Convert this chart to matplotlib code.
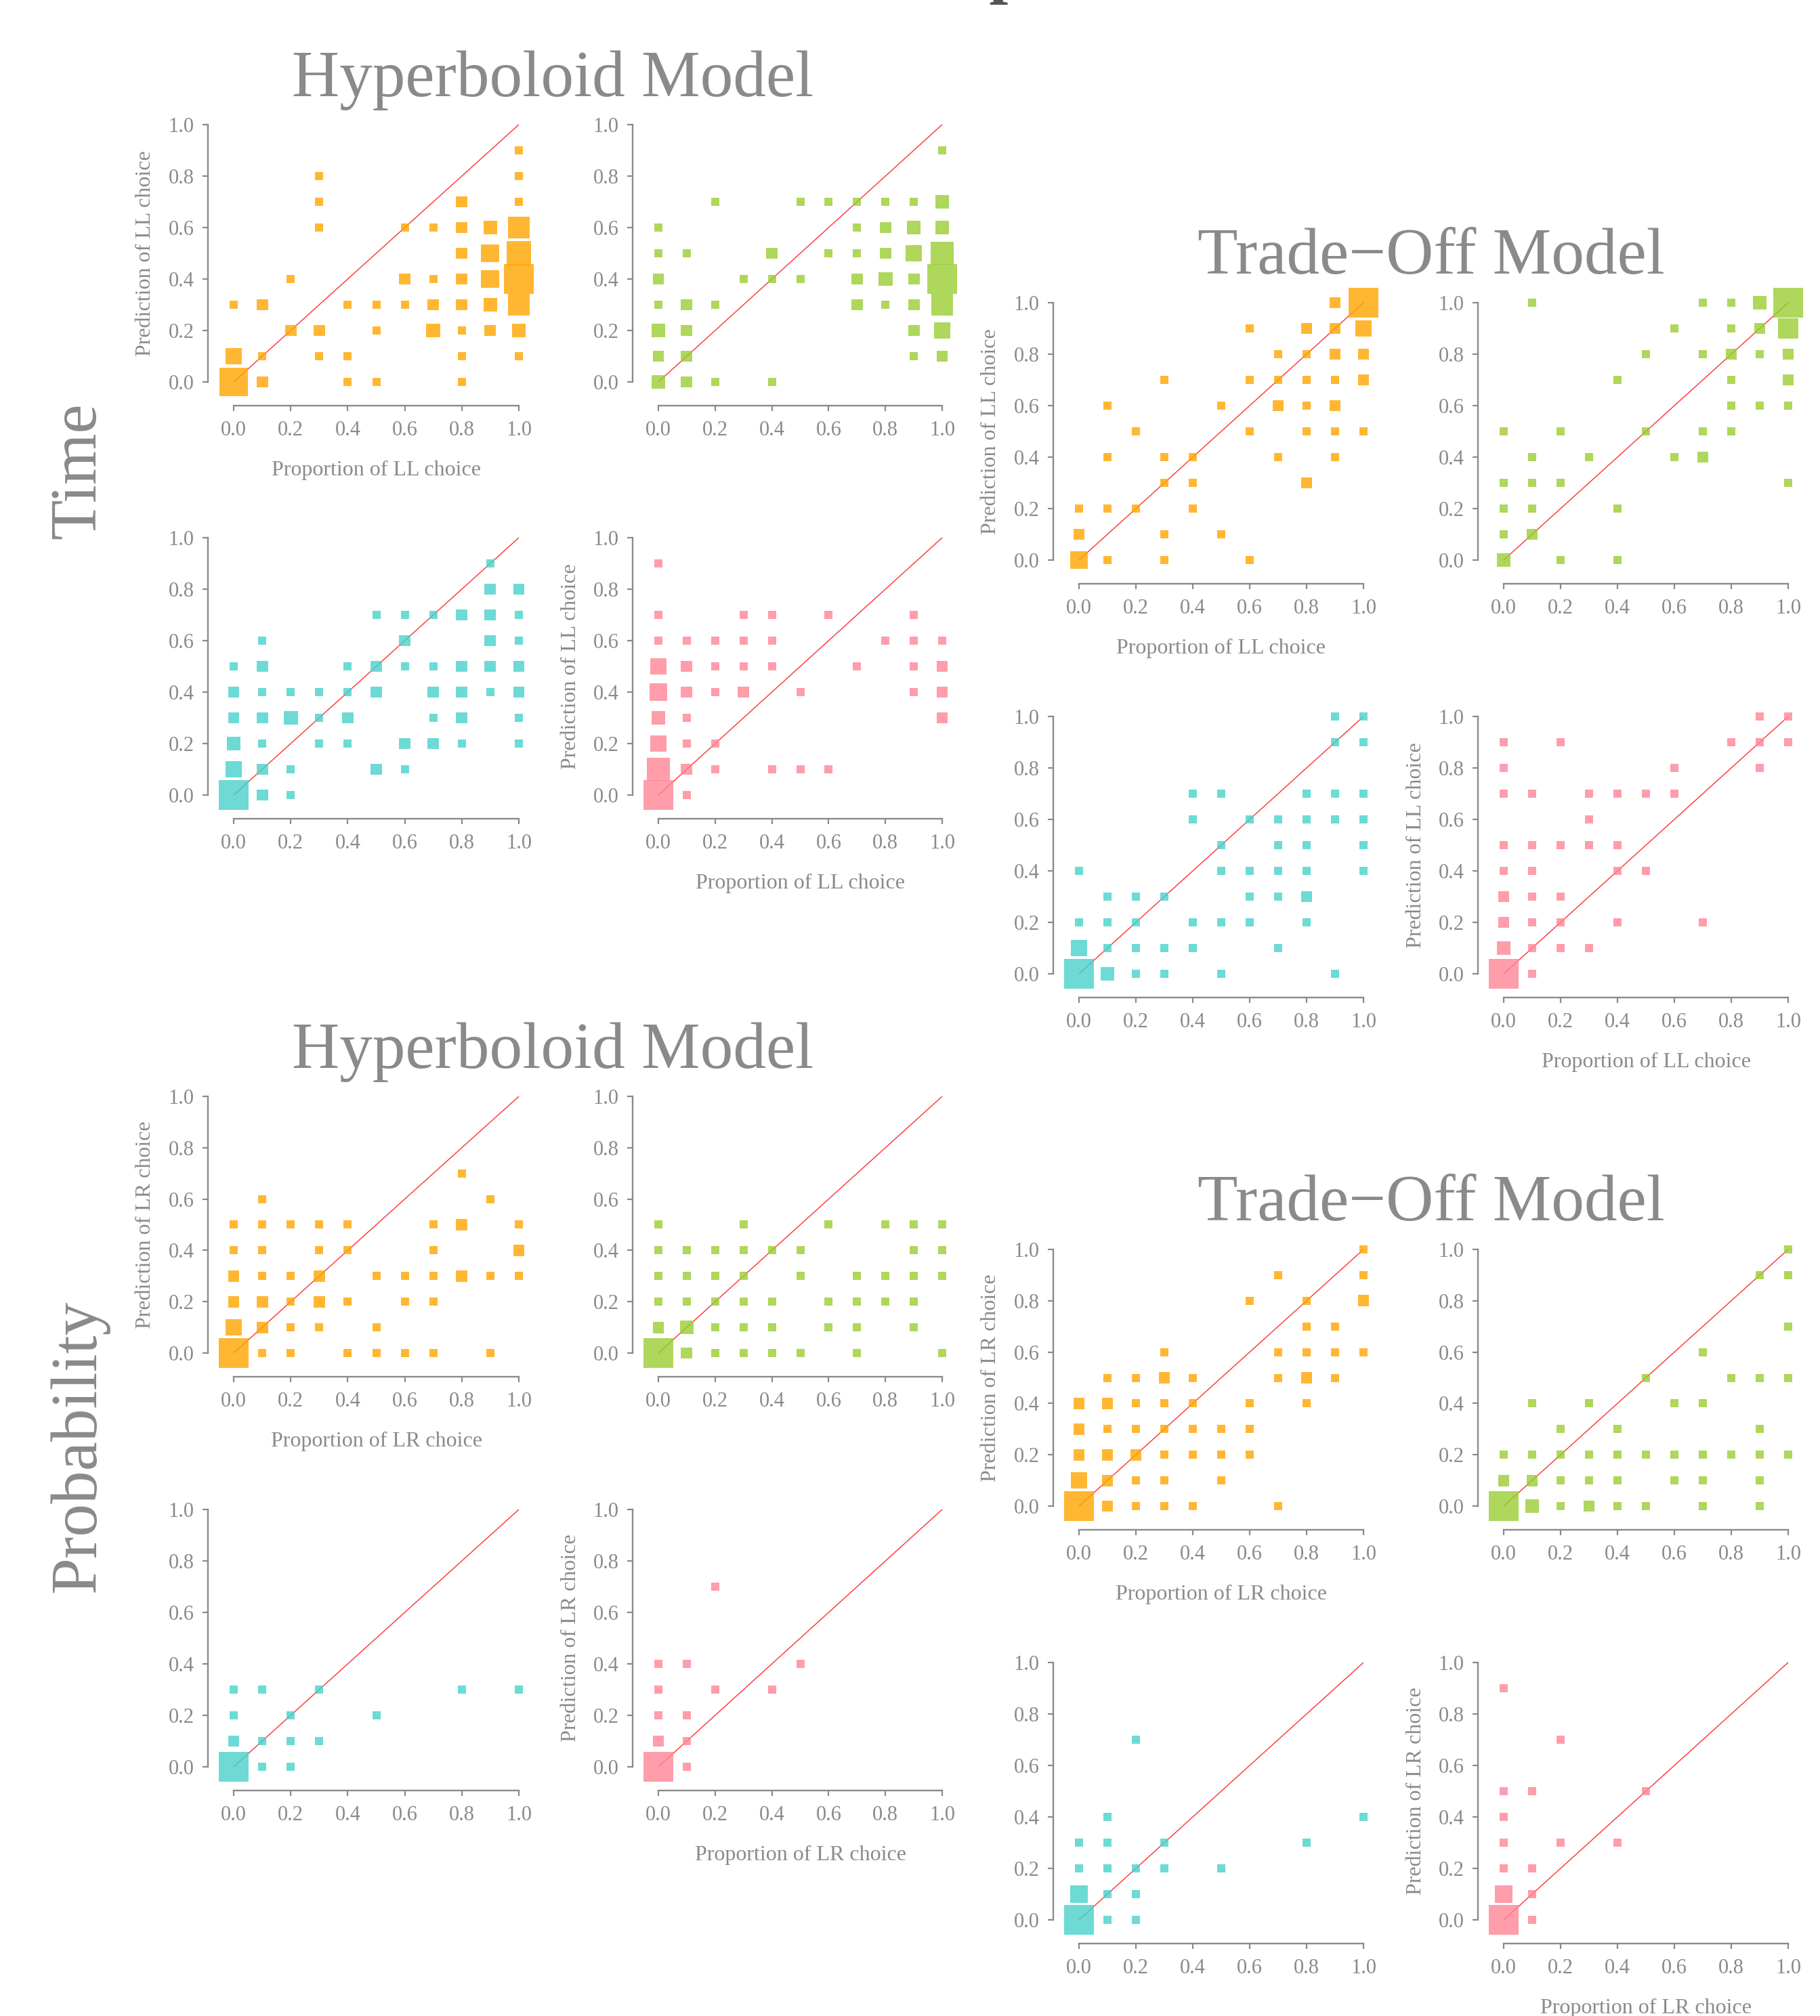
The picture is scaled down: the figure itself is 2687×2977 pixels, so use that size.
import matplotlib
matplotlib.use("Agg")
import matplotlib.pyplot as plt
import numpy as np

# ---------------- data: (observed proportion, model prediction, count) ----------------
th_orange = [(0.0,0.0,12),(0.0,0.1,4),(0.0,0.3,1),(0.1,0.0,2),(0.1,0.1,1),(0.1,0.3,2),(0.2,0.2,2),(0.2,0.4,1),
             (0.3,0.1,1),(0.3,0.2,2),(0.3,0.6,1),(0.3,0.7,1),(0.3,0.8,1),(0.4,0.0,1),(0.4,0.1,1),(0.4,0.3,1),
             (0.5,0.0,1),(0.5,0.2,1),(0.5,0.3,1),(0.6,0.3,1),(0.6,0.4,2),(0.6,0.6,1),(0.7,0.2,3),(0.7,0.3,2),
             (0.7,0.4,1),(0.7,0.6,1),(0.8,0.0,1),(0.8,0.1,1),(0.8,0.2,1),(0.8,0.3,2),(0.8,0.4,2),(0.8,0.5,2),
             (0.8,0.6,2),(0.8,0.7,2),(0.9,0.2,2),(0.9,0.3,3),(0.9,0.4,5),(0.9,0.5,5),(0.9,0.6,3),(1.0,0.1,1),
             (1.0,0.2,3),(1.0,0.3,7),(1.0,0.4,14),(1.0,0.5,9),(1.0,0.6,7),(1.0,0.7,1),(1.0,0.8,1),(1.0,0.9,1)]
th_green = [(0.0,0.0,3),(0.0,0.1,2),(0.0,0.2,3),(0.0,0.3,1),(0.0,0.4,2),(0.0,0.5,1),(0.0,0.6,1),(0.1,0.0,2),
            (0.1,0.1,2),(0.1,0.2,2),(0.1,0.3,2),(0.1,0.5,1),(0.2,0.0,1),(0.2,0.3,1),(0.2,0.7,1),(0.3,0.4,1),
            (0.4,0.0,1),(0.4,0.4,1),(0.4,0.5,2),(0.5,0.4,1),(0.5,0.7,1),(0.6,0.5,1),(0.6,0.7,1),(0.7,0.3,2),
            (0.7,0.4,2),(0.7,0.5,1),(0.7,0.6,1),(0.7,0.7,1),(0.8,0.3,1),(0.8,0.4,3),(0.8,0.5,2),(0.8,0.6,2),
            (0.8,0.7,1),(0.9,0.1,1),(0.9,0.2,2),(0.9,0.3,2),(0.9,0.4,2),(0.9,0.5,4),(0.9,0.6,3),(0.9,0.7,1),
            (1.0,0.1,2),(1.0,0.2,4),(1.0,0.3,7),(1.0,0.4,14),(1.0,0.5,8),(1.0,0.6,3),(1.0,0.7,3),(1.0,0.9,1)]
th_cyan = [(0.0,0.0,14),(0.0,0.1,4),(0.0,0.2,3),(0.0,0.3,2),(0.0,0.4,2),(0.0,0.5,1),(0.1,0.0,2),(0.1,0.1,2),
           (0.1,0.2,1),(0.1,0.3,2),(0.1,0.4,1),(0.1,0.5,2),(0.1,0.6,1),(0.2,0.0,1),(0.2,0.1,1),(0.2,0.3,3),
           (0.2,0.4,1),(0.3,0.2,1),(0.3,0.3,1),(0.3,0.4,1),(0.4,0.2,1),(0.4,0.3,2),(0.4,0.4,1),(0.4,0.5,1),
           (0.5,0.1,2),(0.5,0.4,2),(0.5,0.5,2),(0.5,0.7,1),(0.6,0.1,1),(0.6,0.2,2),(0.6,0.5,1),(0.6,0.6,2),
           (0.6,0.7,1),(0.7,0.2,2),(0.7,0.3,1),(0.7,0.4,2),(0.7,0.5,1),(0.7,0.7,1),(0.8,0.2,1),(0.8,0.3,2),
           (0.8,0.4,2),(0.8,0.5,2),(0.8,0.7,2),(0.9,0.4,1),(0.9,0.5,2),(0.9,0.6,2),(0.9,0.7,2),(0.9,0.8,2),
           (0.9,0.9,1),(1.0,0.2,1),(1.0,0.3,1),(1.0,0.4,2),(1.0,0.5,2),(1.0,0.6,1),(1.0,0.7,1),(1.0,0.8,2)]
th_pink = [(0.0,0.0,14),(0.0,0.1,8),(0.0,0.2,4),(0.0,0.3,3),(0.0,0.4,5),(0.0,0.5,4),(0.0,0.6,1),(0.0,0.7,1),
           (0.0,0.9,1),(0.1,0.0,1),(0.1,0.1,2),(0.1,0.2,1),(0.1,0.3,1),(0.1,0.4,2),(0.1,0.5,2),(0.1,0.6,1),
           (0.2,0.1,1),(0.2,0.2,1),(0.2,0.4,1),(0.2,0.5,1),(0.2,0.6,1),(0.3,0.4,2),(0.3,0.5,1),(0.3,0.6,1),
           (0.3,0.7,1),(0.4,0.1,1),(0.4,0.5,1),(0.4,0.6,1),(0.4,0.7,1),(0.5,0.1,1),(0.5,0.4,1),(0.6,0.1,1),
           (0.6,0.7,1),(0.7,0.5,1),(0.8,0.6,1),(0.9,0.4,1),(0.9,0.5,1),(0.9,0.6,1),(0.9,0.7,1),(1.0,0.3,2),
           (1.0,0.4,2),(1.0,0.5,2),(1.0,0.6,1)]

tt_orange = [(0.0,0.0,5),(0.0,0.1,2),(0.0,0.2,1),(0.1,0.0,1),(0.1,0.2,1),(0.1,0.4,1),(0.1,0.6,1),(0.2,0.2,1),
             (0.2,0.5,1),(0.3,0.0,1),(0.3,0.1,1),(0.3,0.3,1),(0.3,0.4,1),(0.3,0.7,1),(0.4,0.2,1),(0.4,0.3,1),
             (0.4,0.4,1),(0.5,0.1,1),(0.5,0.6,1),(0.6,0.0,1),(0.6,0.5,1),(0.6,0.7,1),(0.6,0.9,1),(0.7,0.4,1),
             (0.7,0.6,2),(0.7,0.7,1),(0.7,0.8,1),(0.8,0.3,2),(0.8,0.5,1),(0.8,0.6,1),(0.8,0.7,1),(0.8,0.8,1),
             (0.8,0.9,2),(0.9,0.4,1),(0.9,0.5,1),(0.9,0.6,2),(0.9,0.7,1),(0.9,0.8,2),(0.9,0.9,2),(0.9,1.0,2),
             (1.0,0.5,1),(1.0,0.7,2),(1.0,0.8,2),(1.0,0.9,4),(1.0,1.0,14)]
tt_green = [(0.0,0.0,3),(0.0,0.1,1),(0.0,0.2,1),(0.0,0.3,1),(0.0,0.5,1),(0.1,0.1,2),(0.1,0.2,1),(0.1,0.3,1),
            (0.1,0.4,1),(0.1,1.0,1),(0.2,0.0,1),(0.2,0.3,1),(0.2,0.5,1),(0.3,0.4,1),(0.4,0.0,1),(0.4,0.2,1),
            (0.4,0.7,1),(0.5,0.5,1),(0.5,0.8,1),(0.6,0.4,1),(0.6,0.9,1),(0.7,0.4,2),(0.7,0.5,1),(0.7,0.8,1),
            (0.7,1.0,1),(0.8,0.5,1),(0.8,0.6,1),(0.8,0.7,1),(0.8,0.8,2),(0.8,0.9,1),(0.8,1.0,1),(0.9,0.6,1),
            (0.9,0.8,1),(0.9,0.9,2),(0.9,1.0,3),(1.0,0.3,1),(1.0,0.6,1),(1.0,0.7,2),(1.0,0.8,2),(1.0,0.9,6),
            (1.0,1.0,14)]
tt_cyan = [(0.0,0.0,14),(0.0,0.1,4),(0.0,0.2,1),(0.0,0.4,1),(0.1,0.0,3),(0.1,0.1,1),(0.1,0.2,1),(0.1,0.3,1),
           (0.2,0.0,1),(0.2,0.1,1),(0.2,0.2,1),(0.2,0.3,1),(0.3,0.0,1),(0.3,0.1,1),(0.3,0.3,1),(0.4,0.1,1),
           (0.4,0.2,1),(0.4,0.6,1),(0.4,0.7,1),(0.5,0.0,1),(0.5,0.2,1),(0.5,0.4,1),(0.5,0.5,1),(0.5,0.7,1),
           (0.6,0.2,1),(0.6,0.3,1),(0.6,0.4,1),(0.6,0.6,1),(0.7,0.1,1),(0.7,0.3,1),(0.7,0.4,1),(0.7,0.5,1),
           (0.7,0.6,1),(0.8,0.2,1),(0.8,0.3,2),(0.8,0.4,1),(0.8,0.5,1),(0.8,0.6,1),(0.8,0.7,1),(0.9,0.0,1),
           (0.9,0.6,1),(0.9,0.7,1),(0.9,0.9,1),(0.9,1.0,1),(1.0,0.4,1),(1.0,0.5,1),(1.0,0.6,1),(1.0,0.7,1),
           (1.0,0.9,1),(1.0,1.0,1)]
tt_pink = [(0.0,0.0,14),(0.0,0.1,3),(0.0,0.2,2),(0.0,0.3,2),(0.0,0.4,1),(0.0,0.5,1),(0.0,0.7,1),(0.0,0.8,1),
           (0.0,0.9,1),(0.1,0.0,1),(0.1,0.1,1),(0.1,0.2,1),(0.1,0.3,1),(0.1,0.4,1),(0.1,0.5,1),(0.1,0.7,1),
           (0.2,0.1,1),(0.2,0.2,1),(0.2,0.3,1),(0.2,0.5,1),(0.2,0.9,1),(0.3,0.1,1),(0.3,0.5,1),(0.3,0.6,1),
           (0.3,0.7,1),(0.4,0.2,1),(0.4,0.4,1),(0.4,0.5,1),(0.4,0.7,1),(0.5,0.4,1),(0.5,0.7,1),(0.6,0.7,1),
           (0.6,0.8,1),(0.7,0.2,1),(0.8,0.9,1),(0.9,0.8,1),(0.9,0.9,1),(0.9,1.0,1),(1.0,0.9,1),(1.0,1.0,1)]

ph_orange = [(0.0,0.0,14),(0.0,0.1,4),(0.0,0.2,2),(0.0,0.3,2),(0.0,0.4,1),(0.0,0.5,1),(0.1,0.0,1),(0.1,0.1,2),
             (0.1,0.2,2),(0.1,0.3,1),(0.1,0.4,1),(0.1,0.5,1),(0.1,0.6,1),(0.2,0.0,1),(0.2,0.1,1),(0.2,0.2,1),
             (0.2,0.3,1),(0.2,0.5,1),(0.3,0.1,1),(0.3,0.2,2),(0.3,0.3,2),(0.3,0.4,1),(0.3,0.5,1),(0.4,0.0,1),
             (0.4,0.2,1),(0.4,0.4,1),(0.4,0.5,1),(0.5,0.0,1),(0.5,0.1,1),(0.5,0.3,1),(0.6,0.0,1),(0.6,0.2,1),
             (0.6,0.3,1),(0.7,0.0,1),(0.7,0.2,1),(0.7,0.3,1),(0.7,0.4,1),(0.7,0.5,1),(0.8,0.3,2),(0.8,0.5,2),
             (0.8,0.7,1),(0.9,0.0,1),(0.9,0.3,1),(0.9,0.6,1),(1.0,0.3,1),(1.0,0.4,2),(1.0,0.5,1)]
ph_green = [(0.0,0.0,14),(0.0,0.1,2),(0.0,0.2,1),(0.0,0.3,1),(0.0,0.4,1),(0.0,0.5,1),(0.1,0.0,2),(0.1,0.1,3),
            (0.1,0.2,1),(0.1,0.3,1),(0.1,0.4,1),(0.2,0.0,1),(0.2,0.1,1),(0.2,0.2,1),(0.2,0.3,1),(0.2,0.4,1),
            (0.3,0.0,1),(0.3,0.1,1),(0.3,0.2,1),(0.3,0.3,1),(0.3,0.4,1),(0.3,0.5,1),(0.4,0.0,1),(0.4,0.1,1),
            (0.4,0.2,1),(0.4,0.4,1),(0.5,0.0,1),(0.5,0.3,1),(0.5,0.4,1),(0.6,0.1,1),(0.6,0.2,1),(0.6,0.5,1),
            (0.7,0.0,1),(0.7,0.1,1),(0.7,0.2,1),(0.7,0.3,1),(0.8,0.2,1),(0.8,0.3,1),(0.8,0.5,1),(0.9,0.1,1),
            (0.9,0.2,1),(0.9,0.3,1),(0.9,0.4,1),(0.9,0.5,1),(1.0,0.0,1),(1.0,0.3,1),(1.0,0.4,1),(1.0,0.5,1)]
ph_cyan = [(0.0,0.0,14),(0.0,0.1,2),(0.0,0.2,1),(0.0,0.3,1),(0.1,0.0,1),(0.1,0.1,1),(0.1,0.3,1),(0.2,0.0,1),
           (0.2,0.1,1),(0.2,0.2,1),(0.3,0.1,1),(0.3,0.3,1),(0.5,0.2,1),(0.8,0.3,1),(1.0,0.3,1)]
ph_pink = [(0.0,0.0,14),(0.0,0.1,2),(0.0,0.2,1),(0.0,0.3,1),(0.0,0.4,1),(0.1,0.0,1),(0.1,0.1,1),(0.1,0.2,1),
           (0.1,0.4,1),(0.2,0.3,1),(0.2,0.7,1),(0.4,0.3,1),(0.5,0.4,1)]

pt_orange = [(0.0,0.0,14),(0.0,0.1,4),(0.0,0.2,2),(0.0,0.3,2),(0.0,0.4,2),(0.1,0.0,2),(0.1,0.1,2),(0.1,0.2,2),
             (0.1,0.3,1),(0.1,0.4,2),(0.1,0.5,1),(0.2,0.0,1),(0.2,0.1,1),(0.2,0.2,2),(0.2,0.3,1),(0.2,0.4,1),
             (0.2,0.5,1),(0.3,0.0,1),(0.3,0.1,1),(0.3,0.2,1),(0.3,0.3,1),(0.3,0.4,1),(0.3,0.5,2),(0.3,0.6,1),
             (0.4,0.0,1),(0.4,0.2,1),(0.4,0.3,1),(0.4,0.4,1),(0.4,0.5,1),(0.5,0.1,1),(0.5,0.2,1),(0.5,0.3,1),
             (0.6,0.2,1),(0.6,0.3,1),(0.6,0.4,1),(0.6,0.8,1),(0.7,0.0,1),(0.7,0.5,1),(0.7,0.6,1),(0.7,0.9,1),
             (0.8,0.4,1),(0.8,0.5,2),(0.8,0.6,1),(0.8,0.7,1),(0.8,0.8,1),(0.9,0.5,1),(0.9,0.6,1),(0.9,0.7,1),
             (1.0,0.6,1),(1.0,0.8,2),(1.0,0.9,1),(1.0,1.0,1)]
pt_green = [(0.0,0.0,14),(0.0,0.1,2),(0.0,0.2,1),(0.1,0.0,3),(0.1,0.1,2),(0.1,0.2,1),(0.1,0.4,1),(0.2,0.0,1),
            (0.2,0.1,1),(0.2,0.2,1),(0.2,0.3,1),(0.3,0.0,2),(0.3,0.1,1),(0.3,0.2,1),(0.3,0.4,1),(0.4,0.0,1),
            (0.4,0.1,1),(0.4,0.2,1),(0.4,0.3,1),(0.5,0.0,1),(0.5,0.2,1),(0.5,0.5,1),(0.6,0.1,1),(0.6,0.2,1),
            (0.6,0.4,1),(0.7,0.0,1),(0.7,0.1,1),(0.7,0.2,1),(0.7,0.4,1),(0.7,0.6,1),(0.8,0.2,1),(0.8,0.5,1),
            (0.9,0.0,1),(0.9,0.1,1),(0.9,0.2,1),(0.9,0.3,1),(0.9,0.5,1),(0.9,0.9,1),(1.0,0.2,1),(1.0,0.5,1),
            (1.0,0.7,1),(1.0,0.9,1),(1.0,1.0,1)]
pt_cyan = [(0.0,0.0,14),(0.0,0.1,5),(0.0,0.2,1),(0.0,0.3,1),(0.1,0.0,1),(0.1,0.1,1),(0.1,0.2,1),(0.1,0.3,1),
           (0.1,0.4,1),(0.2,0.0,1),(0.2,0.1,1),(0.2,0.2,1),(0.2,0.7,1),(0.3,0.2,1),(0.3,0.3,1),(0.5,0.2,1),
           (0.8,0.3,1),(1.0,0.4,1)]
pt_pink = [(0.0,0.0,14),(0.0,0.1,5),(0.0,0.2,1),(0.0,0.3,1),(0.0,0.4,1),(0.0,0.5,1),(0.0,0.9,1),(0.1,0.0,1),
           (0.1,0.1,1),(0.1,0.2,1),(0.1,0.5,1),(0.2,0.3,1),(0.2,0.7,1),(0.4,0.3,1),(0.5,0.5,1)]

ticks = [0.0, 0.2, 0.4, 0.6, 0.8, 1.0]
tick_labels = ["0.0", "0.2", "0.4", "0.6", "0.8", "1.0"]
ref_line = [0.0, 1.0]
colors = ["#FFA500", "#9ACD32", "#48D1CC", "#FF8595"]

# ---------------- figure ----------------
W, H = 2687, 2977
DPI = 200
PX_PER_PT = DPI / 72.0
FONT = "Liberation Serif"
GREY = "#8a8a8a"
plt.rcParams["font.family"] = [FONT, "DejaVu Serif"]

fig = plt.figure(figsize=(W / DPI, H / DPI), dpi=DPI)

XMIN, XMAX = -0.09, 1.06
YMIN, YMAX = -0.092, 1.07


def make_axes(x0, x1, y0, y1):
    ux = x1 - x0
    uy = y0 - y1
    left = x0 + XMIN * ux
    right = x0 + XMAX * ux
    bottom = y0 - YMIN * uy
    top = y0 - YMAX * uy
    ax = fig.add_axes([left / W, 1 - bottom / H, (right - left) / W, (bottom - top) / H])
    ax.set_xlim(XMIN, XMAX)
    ax.set_ylim(YMIN, YMAX)
    ax.patch.set_alpha(0)
    for s in ["top", "right"]:
        ax.spines[s].set_visible(False)
    for s in ["left", "bottom"]:
        ax.spines[s].set_color(GREY)
        ax.spines[s].set_linewidth(0.85)
        ax.spines[s].set_bounds(0, 1)
    ax.set_xticks(ticks)
    ax.set_xticklabels(tick_labels)
    ax.set_yticks(ticks)
    ax.set_yticklabels(tick_labels)
    ax.tick_params(axis="both", direction="out", length=2.9, width=0.8, color=GREY,
                   labelcolor=GREY, labelsize=11)
    ax.tick_params(axis="x", pad=5)
    ax.tick_params(axis="y", pad=4.5)
    for lab in ax.get_xticklabels() + ax.get_yticklabels():
        lab.set_fontfamily(FONT)
    return ax


def draw_panel(ax, data, color):
    xs = [d[0] for d in data]
    ys = [d[1] for d in data]
    ns = np.array([d[2] for d in data], dtype=float)
    side_px = 12.0 * np.sqrt(ns)
    s = (side_px / PX_PER_PT) ** 2
    ax.plot(ref_line, ref_line, color="#ff3030", lw=0.5, zorder=1, solid_capstyle="butt")
    ax.scatter(xs, ys, s=s, marker="s", c=color, alpha=0.8, linewidths=0,
               edgecolors="none", zorder=2, clip_on=False)


# pixel geometry of data 0 and 1 for each column/row
colsL = [(345, 766), (972, 1391)]
colsR = [(1593, 2013), (2220, 2640)]
blocks = [
    # (datasets, columns, rows, variable)
    ([th_orange, th_green, th_cyan, th_pink], colsL, [(564, 184), (1174, 794)], "LL"),
    ([tt_orange, tt_green, tt_cyan, tt_pink], colsR, [(827, 447), (1438, 1058)], "LL"),
    ([ph_orange, ph_green, ph_cyan, ph_pink], colsL, [(1998, 1619), (2609, 2229)], "LR"),
    ([pt_orange, pt_green, pt_cyan, pt_pink], colsR, [(2224, 1845), (2835, 2455)], "LR"),
]

for datasets, cols, rows, var in blocks:
    k = 0
    for r, (y0, y1) in enumerate(rows):
        for c, (x0, x1) in enumerate(cols):
            ax = make_axes(x0, x1, y0, y1)
            draw_panel(ax, datasets[k], colors[k])
            if (r, c) in [(0, 0), (1, 1)]:
                fig.text((x0 + x1) / 2 / W, 1 - (y0 + 130) / H, "Proportion of %s choice" % var,
                         ha="center", va="center", fontsize=11.5, color=GREY, family=FONT)
                fig.text((x0 - 130) / W, 1 - (y0 + y1) / 2 / H, "Prediction of %s choice" % var,
                         ha="center", va="center", rotation=90, fontsize=11.5, color=GREY,
                         family=FONT)
            k += 1

# block titles
TITLE_SIZE = 35
fig.text(816 / W, 1 - 142 / H, "Hyperboloid Model", ha="center", va="baseline",
         fontsize=TITLE_SIZE, color=GREY, family=FONT)
fig.text(816 / W, 1 - 1577 / H, "Hyperboloid Model", ha="center", va="baseline",
         fontsize=TITLE_SIZE, color=GREY, family=FONT)
fig.text(2113 / W, 1 - 404 / H, "Trade\u2212Off Model", ha="center", va="baseline",
         fontsize=TITLE_SIZE, color=GREY, family=FONT)
fig.text(2113 / W, 1 - 1802 / H, "Trade\u2212Off Model", ha="center", va="baseline",
         fontsize=TITLE_SIZE, color=GREY, family=FONT)

# row labels
fig.text(117 / W, 1 - 695 / H, "Time", ha="center", va="center", rotation=90,
         fontsize=TITLE_SIZE, color=GREY, family=FONT)
fig.text(117 / W, 1 - 2136 / H, "Probability", ha="center", va="center", rotation=90,
         fontsize=TITLE_SIZE, color=GREY, family=FONT)

# overall title (cut off at the top edge in the original, only a descender shows)
fig.text(1370 / W, 1 + 14 / H, "Model Comparison", ha="center", va="baseline",
         fontsize=36, color="#555555", family=FONT, fontweight="bold")

fig.savefig("out.png", dpi=DPI)
